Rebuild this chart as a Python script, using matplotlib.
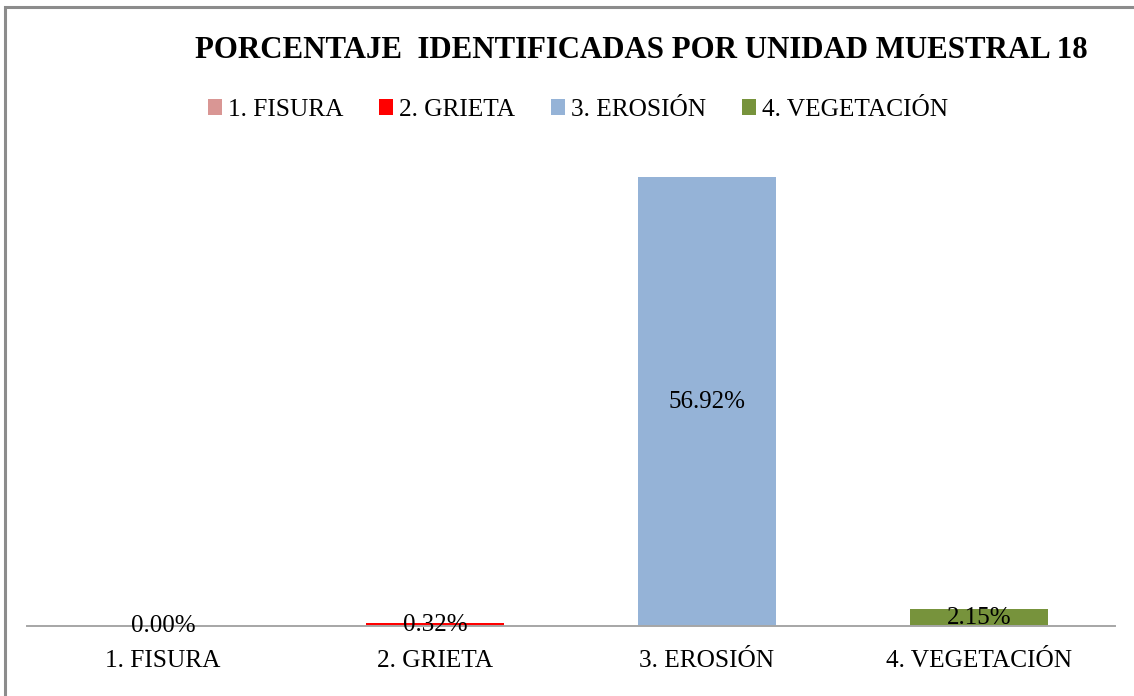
import matplotlib
matplotlib.use("Agg")
import matplotlib.pyplot as plt
from matplotlib.patches import Rectangle, Patch

# porcentajes por tipo de falla, unidad muestral 18
categorias = ["1. FISURA", "2. GRIETA", "3. EROSIÓN", "4. VEGETACIÓN"]
porcentajes = [0.00, 0.32, 56.92, 2.15]
colores = ["#D99694", "#FF0000", "#95B3D7", "#77933C"]
titulo = "PORCENTAJE  IDENTIFICADAS POR UNIDAD MUESTRAL 18"

plt.rcParams["font.family"] = ["Liberation Serif", "DejaVu Serif"]

fig = plt.figure(figsize=(11.34, 6.96), dpi=100)
W, H = 1134, 696

# marco gris del grafico
marco = Rectangle((5 / W, -0.05), 1.2, 1 - 7 / H + 0.05, transform=fig.transFigure,
                  fill=False, edgecolor="#8C8C8C", linewidth=2.2)
fig.patches.append(marco)

ax = fig.add_axes([27 / W, 1 - 626 / H, (1115 - 27) / W, (626 - 153) / H])
x = range(len(categorias))
barras = ax.bar(x, porcentajes, width=0.51, color=colores, zorder=2)

ax.set_xlim(-0.5, 3.5)
ax.set_ylim(0, 60)
for lado in ["top", "right", "left"]:
    ax.spines[lado].set_visible(False)
ax.spines["bottom"].set_color("#A6A6A6")
ax.spines["bottom"].set_linewidth(1.4)
ax.set_yticks([])
ax.set_xticks(list(x))
ax.set_xticklabels(categorias, fontsize=18.3)
ax.tick_params(axis="x", length=0, pad=17)

# etiquetas de datos centradas en cada barra
for i, v in enumerate(porcentajes):
    ax.text(i, v / 2, "{:.2f}%".format(v), ha="center", va="center",
            fontsize=18, zorder=3)

fig.text(641 / W, 1 - 50 / H, titulo, ha="center", va="center",
         fontsize=22.2, fontweight="bold")

handles = [Patch(facecolor=c, edgecolor="none") for c in colores]
fig.legend(handles, categorias, loc="center", ncol=4,
           bbox_to_anchor=(578 / W, 1 - 110 / H), frameon=False,
           fontsize=18.3, handlelength=0.55, handleheight=0.55,
           handletextpad=0.25, columnspacing=1.4)

fig.savefig("out.png", dpi=100)
